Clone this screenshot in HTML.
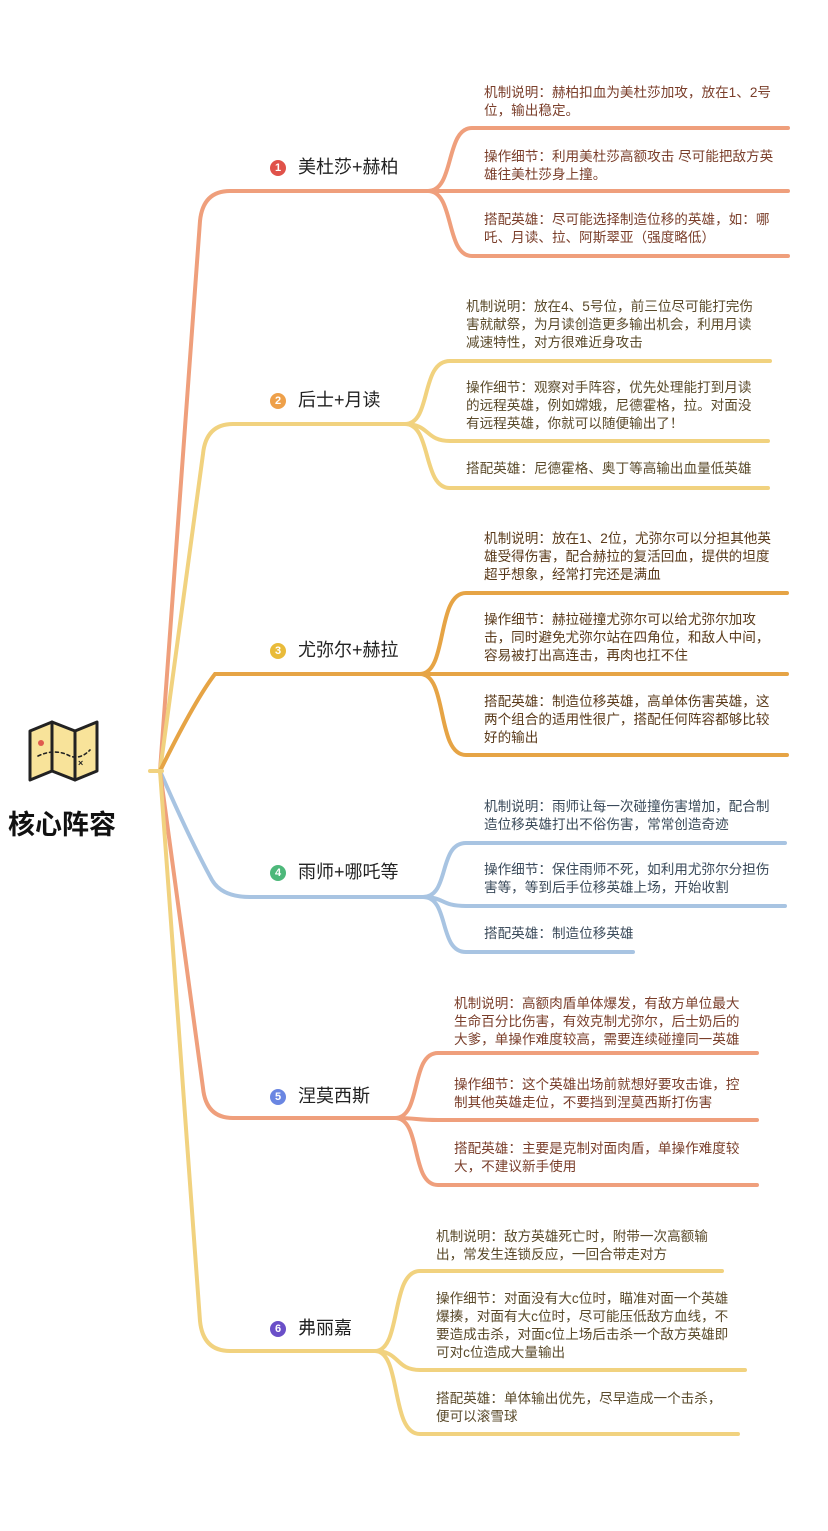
<!DOCTYPE html>
<html><head><meta charset="utf-8"><style>
body{margin:0;background:#fff;}
#c{position:relative;width:828px;height:1531px;overflow:hidden;font-family:"Liberation Sans","Noto Sans CJK SC",sans-serif;}
.t{position:absolute;font-size:13.6px;line-height:18px;white-space:nowrap;}
.m{position:absolute;font-size:18px;line-height:22px;color:#222;white-space:nowrap;}
.n{display:inline-block;width:16px;height:16px;border-radius:50%;color:#fff;font-size:11px;line-height:16px;text-align:center;font-weight:bold;vertical-align:2px;margin-right:12px;}
</style></head><body><div id="c">
<svg width="828" height="1531" style="position:absolute;left:0;top:0" fill="none" stroke-width="4" stroke-linecap="round">
<path d="M160 771 L200 221 Q203 191 230 191 L428 191" stroke="#ef9f7c"/>
<path d="M160 771 L203 454 Q206 424 233 424 L405 424" stroke="#f1d27f"/>
<path d="M160 771 Q195 700 215 674 L420 674" stroke="#e6a445"/>
<path d="M160 771 Q190 840 212 880 Q222 897 250 897 L423 897" stroke="#a8c4e2"/>
<path d="M160 771 L203 1088 Q206 1118 233 1118 L395 1118" stroke="#ef9f7c"/>
<path d="M160 771 L200 1321 Q203 1351 230 1351 L375 1351" stroke="#f1d27f"/>
<line x1="150" y1="771" x2="162" y2="771" stroke="#f1d27f"/>
<g stroke="#ef9f7c"><path d="M428 191 C455 191 445 128 472 128 L788 128"/><path d="M428 191 L788 191"/><path d="M428 191 C455 191 445 256 472 256 L788 256"/></g>
<g stroke="#f1d27f"><path d="M405 424 C432 424 420 361 450 361 L770 361"/><path d="M405 424 C430 424 425 441 450 441 L768 441"/><path d="M405 424 C432 424 422 488 450 488 L768 488"/></g>
<g stroke="#e6a445"><path d="M420 674 C448 674 436 593 466 593 L787 593"/><path d="M420 674 L787 674"/><path d="M420 674 C448 674 436 755 466 755 L787 755"/></g>
<g stroke="#a8c4e2"><path d="M423 897 C450 897 438 843 466 843 L785 843"/><path d="M423 897 C445 897 440 906 466 906 L785 906"/><path d="M423 897 C450 897 438 952 466 952 L633 952"/></g>
<g stroke="#ef9f7c"><path d="M395 1118 C422 1118 410 1053 438 1053 L757 1053"/><path d="M395 1118 C418 1118 415 1120 438 1120 L757 1120"/><path d="M395 1118 C422 1118 410 1185 438 1185 L757 1185"/></g>
<g stroke="#f1d27f"><path d="M375 1351 C402 1351 390 1271 420 1271 L722 1271"/><path d="M375 1351 C400 1351 395 1370 420 1370 L745 1370"/><path d="M375 1351 C402 1351 390 1434 420 1434 L738 1434"/></g>
<g stroke="#222" stroke-width="3" stroke-linejoin="round">
<path d="M30 731 L52 722 L75 731 L97 722 L97 771 L75 780 L52 771 L30 780 Z" fill="#f8e39a"/>
<line x1="52" y1="722" x2="52" y2="771"/><line x1="75" y1="731" x2="75" y2="780"/>
</g>
<path d="M38 756 Q55 748 70 756 Q80 760 90 750" stroke="#222" stroke-width="1.6" stroke-dasharray="3 3"/>
<circle cx="41" cy="743" r="3" fill="#e05a4e" stroke="none"/>
<text x="78" y="766" font-size="9" font-weight="bold" fill="#222" stroke="none" font-family="Liberation Sans">×</text>
</svg>
<div class="m" style="left:8px;top:808px;font-size:27px;line-height:34px;font-weight:bold;color:#111">核心阵容</div>

<div class="m" style="left:270px;top:156px"><span class="n" style="background:#e0524a">1</span>美杜莎+赫柏</div>
<div class="m" style="left:270px;top:389px"><span class="n" style="background:#eea04a">2</span>后士+月读</div>
<div class="m" style="left:270px;top:639px"><span class="n" style="background:#e9bb3a">3</span>尤弥尔+赫拉</div>
<div class="m" style="left:270px;top:861px"><span class="n" style="background:#4db87a">4</span>雨师+哪吒等</div>
<div class="m" style="left:270px;top:1085px"><span class="n" style="background:#6a86e2">5</span>涅莫西斯</div>
<div class="m" style="left:270px;top:1317px"><span class="n" style="background:#6a4fc8">6</span>弗丽嘉</div>

<div class="t" style="left:484px;top:84px;color:#7a3e2a">机制说明：赫柏扣血为美杜莎加攻，放在1、2号<br>位，输出稳定。</div>
<div class="t" style="left:484px;top:148px;color:#7a3e2a">操作细节：利用美杜莎高额攻击 尽可能把敌方英<br>雄往美杜莎身上撞。</div>
<div class="t" style="left:484px;top:211px;color:#7a3e2a">搭配英雄：尽可能选择制造位移的英雄，如：哪<br>吒、月读、拉、阿斯翠亚（强度略低）</div>

<div class="t" style="left:466px;top:298px;color:#5a4a2a">机制说明：放在4、5号位，前三位尽可能打完伤<br>害就献祭，为月读创造更多输出机会，利用月读<br>减速特性，对方很难近身攻击</div>
<div class="t" style="left:466px;top:379px;color:#5a4a2a">操作细节：观察对手阵容，优先处理能打到月读<br>的远程英雄，例如嫦娥，尼德霍格，拉。对面没<br>有远程英雄，你就可以随便输出了！</div>
<div class="t" style="left:466px;top:460px;color:#5a4a2a">搭配英雄：尼德霍格、奥丁等高输出血量低英雄</div>

<div class="t" style="left:484px;top:530px;color:#5a3a1a">机制说明：放在1、2位，尤弥尔可以分担其他英<br>雄受得伤害，配合赫拉的复活回血，提供的坦度<br>超乎想象，经常打完还是满血</div>
<div class="t" style="left:484px;top:611px;color:#5a3a1a">操作细节：赫拉碰撞尤弥尔可以给尤弥尔加攻<br>击，同时避免尤弥尔站在四角位，和敌人中间，<br>容易被打出高连击，再肉也扛不住</div>
<div class="t" style="left:484px;top:693px;color:#5a3a1a">搭配英雄：制造位移英雄，高单体伤害英雄，这<br>两个组合的适用性很广，搭配任何阵容都够比较<br>好的输出</div>

<div class="t" style="left:484px;top:798px;color:#3a4a5a">机制说明：雨师让每一次碰撞伤害增加，配合制<br>造位移英雄打出不俗伤害，常常创造奇迹</div>
<div class="t" style="left:484px;top:861px;color:#3a4a5a">操作细节：保住雨师不死，如利用尤弥尔分担伤<br>害等，等到后手位移英雄上场，开始收割</div>
<div class="t" style="left:484px;top:925px;color:#3a4a5a">搭配英雄：制造位移英雄</div>

<div class="t" style="left:454px;top:995px;color:#7a3e2a">机制说明：高额肉盾单体爆发，有敌方单位最大<br>生命百分比伤害，有效克制尤弥尔，后士奶后的<br>大爹，单操作难度较高，需要连续碰撞同一英雄</div>
<div class="t" style="left:454px;top:1076px;color:#7a3e2a">操作细节：这个英雄出场前就想好要攻击谁，控<br>制其他英雄走位，不要挡到涅莫西斯打伤害</div>
<div class="t" style="left:454px;top:1140px;color:#7a3e2a">搭配英雄：主要是克制对面肉盾，单操作难度较<br>大，不建议新手使用</div>

<div class="t" style="left:436px;top:1228px;color:#5a4a2a">机制说明：敌方英雄死亡时，附带一次高额输<br>出，常发生连锁反应，一回合带走对方</div>
<div class="t" style="left:436px;top:1290px;color:#5a4a2a">操作细节：对面没有大c位时，瞄准对面一个英雄<br>爆揍，对面有大c位时，尽可能压低敌方血线，不<br>要造成击杀，对面c位上场后击杀一个敌方英雄即<br>可对c位造成大量输出</div>
<div class="t" style="left:436px;top:1390px;color:#5a4a2a">搭配英雄：单体输出优先，尽早造成一个击杀，<br>便可以滚雪球</div>
</div></body></html>
